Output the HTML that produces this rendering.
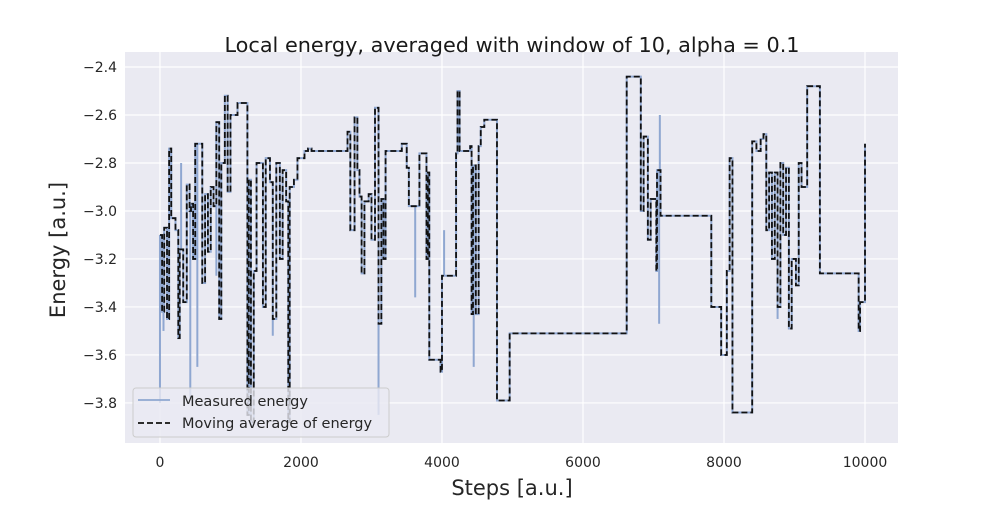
<!DOCTYPE html>
<html><head><meta charset="utf-8"><style>
body{margin:0;background:#fff;font-family:"Liberation Sans","DejaVu Sans",sans-serif;}
svg text{font-family:"DejaVu Sans","Liberation Sans",sans-serif;fill:#262626;}
</style></head><body>
<svg id="chart" width="1000" height="500" xmlns="http://www.w3.org/2000/svg">
<rect x="0" y="0" width="1000" height="500" fill="#fff"/>
<rect x="125" y="52" width="773" height="391" fill="#EAEAF2"/>
<g id="grid"></g>
<g id="series"></g>
<text x="512" y="52" text-anchor="middle" font-size="20.8" style="fill:#1a1a1a">Local energy, averaged with window of 10, alpha = 0.1</text>
<text x="512" y="495" text-anchor="middle" font-size="21">Steps [a.u.]</text>
<text transform="translate(65,250) rotate(-90)" text-anchor="middle" font-size="21">Energy [a.u.]</text>
<g>
<rect x="133" y="388" width="256" height="49" rx="3" fill="#EAEAF2" fill-opacity="0.8" stroke="#ccc"/>
<line x1="138" y1="400" x2="170" y2="400" stroke="#8fa7d1" stroke-width="1.8"/>
<text x="182" y="406" font-size="14.5">Measured energy</text>
<line x1="138" y1="423" x2="170" y2="423" stroke="#111" stroke-width="1.8" stroke-dasharray="6,3"/>
<text x="182" y="428" font-size="14.5">Moving average of energy</text>
</g>
</svg>
<script>
const xTicks=[0,2000,4000,6000,8000,10000];
const yTicks=[-2.4,-2.6,-2.8,-3.0,-3.2,-3.4,-3.6,-3.8];
const avgSteps=[0,30,60,100,130,160,220,260,280,330,380,420,440,470,500,580,600,640,680,720,760,800,840,870,920,960,1000,1100,1230,1240,1260,1290,1330,1370,1430,1460,1500,1560,1600,1650,1700,1740,1790,1820,1840,1900,1950,2050,2100,2150,2650,2660,2700,2740,2760,2800,2830,2860,2900,2960,3000,3050,3100,3140,3170,3200,3400,3430,3500,3530,3620,3680,3780,3800,3820,3950,3980,4000,4060,4200,4220,4250,4310,4400,4420,4440,4480,4520,4550,4600,4750,4780,4950,4960,6600,6620,6800,6820,6860,6920,6960,7040,7050,7100,7800,7820,7940,7960,8040,8080,8120,8380,8400,8460,8520,8560,8600,8640,8680,8720,8760,8800,8840,8880,8920,8960,9020,9060,9100,9180,9340,9360,9900,9910,9930,10000];
const avgValues=[-3.1,-3.42,-3.07,-3.45,-2.74,-3.03,-3.08,-3.53,-3.16,-3.38,-2.89,-3.0,-2.97,-3.2,-2.72,-2.72,-3.3,-2.93,-3.17,-2.9,-2.98,-2.63,-3.45,-2.8,-2.52,-2.92,-2.6,-2.55,-2.55,-3.85,-2.87,-3.88,-3.25,-2.8,-2.8,-3.4,-2.78,-2.88,-3.45,-2.8,-3.2,-2.83,-2.96,-3.88,-2.9,-2.87,-2.78,-2.75,-2.74,-2.75,-2.75,-2.67,-3.08,-3.08,-2.61,-2.83,-2.94,-3.26,-2.96,-2.93,-3.12,-2.57,-3.47,-2.95,-3.2,-2.75,-2.75,-2.72,-2.82,-2.98,-2.98,-2.76,-3.2,-2.84,-3.62,-3.62,-3.67,-3.27,-3.27,-2.76,-2.5,-2.75,-2.75,-2.73,-3.43,-2.81,-3.43,-2.73,-2.65,-2.62,-2.62,-3.79,-3.79,-3.51,-3.51,-2.44,-2.44,-3.0,-2.69,-3.12,-2.95,-3.25,-2.83,-3.02,-3.02,-3.4,-3.4,-3.6,-3.25,-2.78,-3.84,-3.84,-2.71,-2.75,-2.7,-2.68,-3.08,-2.84,-3.2,-2.84,-3.4,-2.8,-3.1,-2.82,-3.49,-3.2,-3.31,-2.8,-2.9,-2.48,-2.48,-3.26,-3.26,-3.5,-3.38,-2.72];
const spikeSteps=[0,50,300,430,530,800,1300,1600,3100,3620,4030,4450,7080,7090,8760];
const spikeValues=[-3.8,-3.5,-2.8,-3.78,-3.65,-3.27,-3.9,-3.52,-3.85,-3.36,-3.08,-3.65,-3.47,-2.6,-3.45];
const X0=125,X1=898,Y0=52,Y1=443;
const xMin=-496,xMax=10468,yMax=-2.3375,yMin=-3.967;
const sx=v=>X0+(v-xMin)/(xMax-xMin)*(X1-X0);
const sy=v=>Y0+(yMax-v)/(yMax-yMin)*(Y1-Y0);
const NS="http://www.w3.org/2000/svg";
const grid=document.getElementById('grid'),ser=document.getElementById('series');
function mk(tag,attrs,parent){const e=document.createElementNS(NS,tag);for(const k in attrs)e.setAttribute(k,attrs[k]);parent.appendChild(e);return e;}
xTicks.forEach(t=>{
 const l=mk('line',{x1:sx(t),x2:sx(t),y1:Y0,y2:Y1,stroke:'#fff','stroke-width':1.2},grid);
 
 
 const tx=mk('text',{x:sx(t),y:Y1+24,'text-anchor':'middle','font-size':14},document.getElementById('chart'));
 tx.textContent=t;
 
 
});
yTicks.forEach(t=>{
 const l=mk('line',{x1:X0,x2:X1,y1:sy(t),y2:sy(t),stroke:'#fff','stroke-width':1.2},grid);
 
 
 const tx=mk('text',{x:X0-8,y:sy(t)+5,'text-anchor':'end','font-size':14},document.getElementById('chart'));
 tx.textContent='\u2212'+Math.abs(t).toFixed(1);
 
 
});
let d='';
avgSteps.forEach((s,i)=>{d+=(i?'H'+sx(s)+'V'+sy(avgValues[i]):'M'+sx(s)+','+sy(avgValues[i]));});
const meas=mk('path',{d:d,fill:'none',stroke:'#8fa7d1','stroke-width':2},ser);


spikeSteps.forEach((s,i)=>{
 const idx=avgSteps.findIndex(v=>v>s);
 const base=avgValues[Math.max(0,(idx<0?avgSteps.length:idx)-1)];
 const sp=mk('line',{x1:sx(s),x2:sx(s),y1:sy(base),y2:sy(spikeValues[i]),stroke:'#8fa7d1','stroke-width':2},ser);
 
 
});
const avg=mk('path',{d:d,fill:'none',stroke:'#111','stroke-width':1.8,'stroke-dasharray':'6,3'},ser);


</script>
</body></html>
